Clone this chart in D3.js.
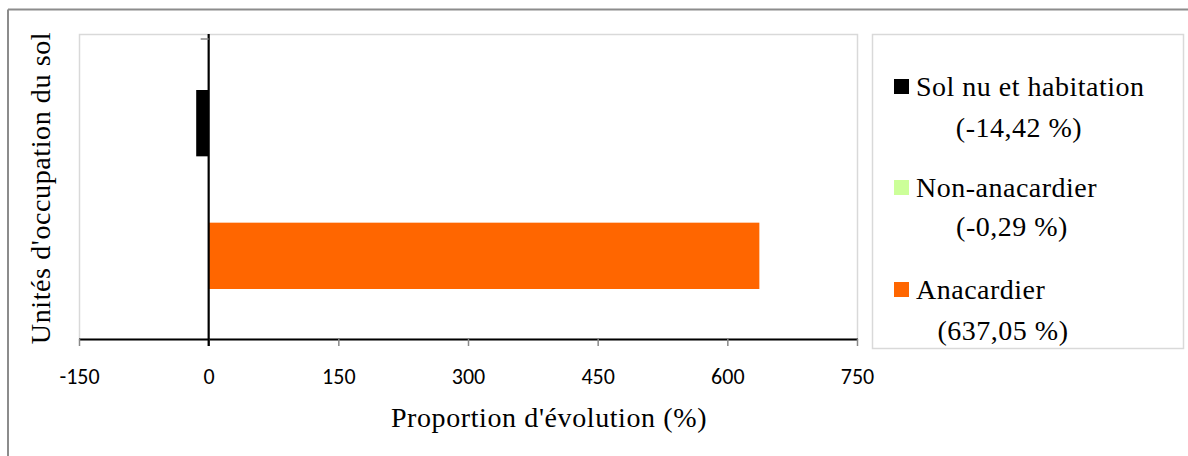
<!DOCTYPE html>
<html>
<head>
<meta charset="utf-8">
<script src="https://cdn.jsdelivr.net/npm/d3@7"></script>
<style>
  html, body { margin: 0; padding: 0; background: #fff; }
  svg { display: block; }
</style>
</head>
<body>
<svg id="chart" width="1188" height="456"></svg>
<script>
// Land-use change rates (one category, three series)
const seriesNames = ["Sol nu et habitation", "Non-anacardier", "Anacardier"];
const seriesLabels = ["(-14,42 %)", "(-0,29 %)", "(637,05 %)"];
const seriesValues = [-14.42, -0.29, 637.05];
const seriesColors = ["#000000", "#ccff99", "#ff6600"];
const xTicks = [-150, 0, 150, 300, 450, 600, 750];

const svg = d3.select("#chart");
const serif = "'Liberation Serif', 'Times New Roman', serif";
const sans = "Carlito, Lato, 'Open Sans', sans-serif";

// outer chart frame (left and top edges visible)
svg.append("line").attr("x1", 8).attr("x2", 8).attr("y1", 9.5).attr("y2", 456)
  .attr("stroke", "#8c8c8c").attr("stroke-width", 2);
svg.append("line").attr("x1", 8).attr("x2", 1188).attr("y1", 9.5).attr("y2", 9.5)
  .attr("stroke", "#8c8c8c").attr("stroke-width", 2);

const plot = { left: 79, right: 857, top: 34, bottom: 339 };

const x = d3.scaleLinear().domain([-150, 750]).range([plot.left, plot.right]);

// single category band, series stacked top-to-bottom
const band = d3.scaleBand().domain(["cat"]).range([plot.top, plot.bottom]).paddingInner(0).paddingOuter(0);
const groupInner = d3.scaleBand().domain(seriesNames)
  .range([band("cat") + 56, band("cat") + band.bandwidth() - 50]).padding(0);

// plot area border
svg.append("rect")
  .attr("x", plot.left + 0.5).attr("y", plot.top + 0.5)
  .attr("width", plot.right - plot.left).attr("height", plot.bottom - plot.top)
  .attr("fill", "none").attr("stroke", "#d9d9d9").attr("stroke-width", 1.5);

// bars
svg.append("g").selectAll("rect")
  .data(seriesNames.map((n, i) => ({ name: n, value: seriesValues[i], color: seriesColors[i] })))
  .join("rect")
  .attr("x", d => x(Math.min(0, d.value)))
  .attr("width", d => Math.abs(x(d.value) - x(0)))
  .attr("y", d => groupInner(d.name))
  .attr("height", groupInner.bandwidth())
  .attr("fill", d => d.color);

// x axis
const xAxis = d3.axisBottom(x).tickValues(xTicks).tickSize(7).tickFormat(d => String(d));
const gx = svg.append("g").attr("transform", `translate(0,${plot.bottom})`).call(xAxis);
gx.select(".domain").attr("stroke", "#000").attr("stroke-width", 2.2)
  .attr("d", `M${plot.left},0.5H${plot.right + 1}`);
gx.selectAll(".tick line").attr("stroke", "#888").attr("stroke-width", 1.5);
gx.selectAll(".tick text").attr("fill", "#000").attr("font-family", sans)
  .attr("font-size", 22).attr("y", 45).attr("dy", 0);

// vertical category axis at zero
svg.append("line")
  .attr("x1", x(0)).attr("x2", x(0))
  .attr("y1", plot.top).attr("y2", plot.bottom + 7)
  .attr("stroke", "#000").attr("stroke-width", 2.2);
svg.append("line")
  .attr("x1", x(0) - 8).attr("x2", x(0))
  .attr("y1", plot.top + 5).attr("y2", plot.top + 5)
  .attr("stroke", "#888").attr("stroke-width", 1.5);

// axis titles
svg.append("text")
  .attr("x", 549).attr("y", 427)
  .attr("text-anchor", "middle").attr("font-family", serif).attr("font-size", 28)
  .attr("letter-spacing", 0.6)
  .attr("fill", "#000").text("Proportion d'évolution (%)");

svg.append("text")
  .attr("transform", `translate(50,188) rotate(-90)`)
  .attr("text-anchor", "middle").attr("font-family", serif).attr("font-size", 28)
  .attr("letter-spacing", 0.6)
  .attr("fill", "#000").text("Unités d'occupation du sol");

// legend
const legend = svg.append("g");
legend.append("rect")
  .attr("x", 872.5).attr("y", 34.5).attr("width", 311).attr("height", 314)
  .attr("fill", "#fff").attr("stroke", "#d9d9d9").attr("stroke-width", 1.5);

const legendRows = [96, 197, 299];
seriesNames.forEach((n, i) => {
  const y = legendRows[i];
  legend.append("rect").attr("x", 894).attr("y", y - 17).attr("width", 15).attr("height", 15)
    .attr("fill", seriesColors[i]);
  legend.append("text").attr("x", 916).attr("y", y)
    .attr("font-family", serif).attr("font-size", 28).attr("letter-spacing", 0.5)
    .attr("fill", "#000").text(n);
});
const labelPos = [[1019, 137], [1012, 236], [1003, 340]];
seriesLabels.forEach((t, i) => {
  legend.append("text").attr("x", labelPos[i][0]).attr("y", labelPos[i][1])
    .attr("text-anchor", "middle")
    .attr("font-family", serif).attr("font-size", 28).attr("letter-spacing", 0.5)
    .attr("fill", "#000").text(t);
});
</script>
</body>
</html>
